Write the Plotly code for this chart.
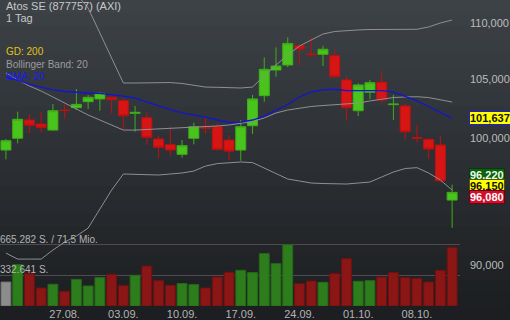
import numpy as np
import plotly.graph_objects as go

dates = ["20.08.", "21.08.", "22.08.", "23.08.", "24.08.",
         "27.08.", "28.08.", "29.08.", "30.08.", "31.08.",
         "03.09.", "04.09.", "05.09.", "06.09.", "07.09.",
         "10.09.", "11.09.", "12.09.", "13.09.", "14.09.",
         "17.09.", "18.09.", "19.09.", "20.09.", "21.09.",
         "24.09.", "25.09.", "26.09.", "27.09.", "28.09.",
         "01.10.", "02.10.", "03.10.", "04.10.", "05.10.",
         "08.10.", "09.10.", "10.10.", "11.10."]

opens = [99.01, 99.98, 101.50, 101.16, 100.66, 102.34, 102.54, 103.05, 103.28, 103.42,
         103.13, 102.06, 101.69, 99.92, 99.45, 98.66, 99.98, 100.89, 100.94, 99.83,
         99.01, 101.02, 103.56, 105.78, 106.22, 107.92, 107.19, 107.16, 107.04, 104.91,
         102.28, 103.85, 104.72, 102.80, 102.68, 100.04, 99.89, 99.42, 95.00]
highs = [99.92, 102.20, 102.00, 102.20, 102.85, 102.82, 104.13, 103.62, 103.87, 103.45,
         103.33, 102.68, 102.15, 100.19, 100.94, 99.83, 101.27, 101.64, 101.22, 100.25,
         101.50, 103.62, 106.89, 107.78, 108.67, 107.95, 108.73, 107.92, 107.54, 105.28,
         104.62, 104.91, 105.63, 103.62, 102.91, 101.08, 100.02, 100.17, 96.22]
lows = [98.25, 99.56, 100.39, 100.47, 100.58, 101.58, 102.34, 102.43, 102.28, 102.06,
        100.66, 100.52, 99.42, 98.34, 98.55, 98.39, 99.48, 100.33, 98.96, 98.20,
        98.14, 100.33, 103.05, 105.20, 106.02, 106.22, 106.95, 106.13, 105.10, 101.44,
        101.83, 103.28, 102.95, 101.50, 99.89, 99.65, 98.28, 96.45, 92.85]
closes = [99.78, 101.56, 101.06, 100.86, 102.28, 102.30, 102.82, 103.42, 103.76, 103.22,
          101.86, 102.14, 100.06, 99.24, 99.01, 99.37, 100.94, 100.83, 99.07, 98.93,
          100.94, 103.28, 105.84, 106.13, 108.13, 107.63, 107.13, 107.61, 105.20, 102.54,
          104.48, 104.68, 103.19, 102.84, 100.52, 100.00, 99.09, 96.53, 95.61]

sma20 = [105.21, 104.87, 104.56, 104.30, 104.06, 103.92, 103.83, 103.79, 103.76, 103.66,
         103.53, 103.36, 103.02, 102.72, 102.38, 102.09, 101.92, 101.75, 101.50, 101.29,
         101.33, 101.50, 101.83, 102.30, 102.81, 103.45, 103.88, 104.05, 104.11, 104.00,
         103.98, 103.99, 103.99, 103.88, 103.49, 103.11, 102.64, 102.13, 101.637]
bb_upper = [120.14, 119.35, 118.27, 117.45, 115.74, 114.11, 112.64, 111.34, 109.07, 106.84,
            104.65, 104.65, 104.65, 104.69, 104.69, 104.61, 104.48, 104.30, 104.28, 104.26,
            104.22, 104.30, 105.26, 106.22, 107.10, 107.90, 108.44, 108.97, 109.20, 109.29,
            109.34, 109.38, 109.40, 109.40, 109.40, 109.40, 109.61, 109.97, 110.24]
bb_mid = [105.52, 104.91, 104.39, 103.96, 103.45, 102.93, 102.43, 101.92, 101.50, 101.08,
          100.66, 100.66, 100.70, 100.75, 100.79, 100.83, 100.87, 100.95, 101.00, 101.08,
          101.21, 101.37, 101.67, 102.09, 102.34, 102.51, 102.64, 102.72, 102.77, 102.85,
          102.93, 103.11, 103.23, 103.40, 103.45, 103.47, 103.40, 103.23, 103.02]
bb_lower = [90.93, 90.48, 90.48, 90.48, 91.16, 91.76, 92.22, 92.83, 94.30, 95.79,
            97.07, 97.03, 96.99, 96.99, 97.07, 97.15, 97.31, 97.71, 97.91, 97.99,
            98.04, 97.99, 97.55, 97.07, 96.67, 96.51, 96.35, 96.31, 96.27, 96.27,
            96.35, 96.43, 96.83, 97.23, 97.51, 97.58, 97.15, 96.59, 95.79]

volumes = [260000, 449000, 351000, 195000, 235000, 159000, 289000, 217000, 308000, 343000,
           221000, 333000, 433000, 275000, 224000, 243000, 232000, 195000, 314000, 365000,
           387000, 362000, 568000, 459000, 665282, 243000, 271000, 257000, 351000, 514000,
           268000, 275000, 314000, 362000, 308000, 300000, 260000, 387000, 636000]
vol_dir = ["n", "u", "d", "d", "u", "d", "u", "u", "u", "d",
           "d", "u", "d", "d", "d", "u", "u", "d", "d", "d",
           "u", "u", "u", "u", "u", "d", "d", "u", "d", "d",
           "u", "u", "d", "d", "d", "d", "d", "d", "d"]

price_ticks = [90, 100, 105, 110]
price_ticktext = ["90,000", "100,000", "105,000", "110,000"]
date_ticks = ["27.08.", "03.09.", "10.09.", "17.09.", "24.09.", "01.10.", "08.10."]
vol_ticks = [332641, 665282]
vol_labels = ["332.641 S.", "665.282 S. / 71,5 Mio."]

last_sma = 101.637
last_sma_text = "101,637"
quote_bid, quote_last, quote_ask = "96,220", "96,150", "96,080"
quote_last_val = 96.15

FONT = "Liberation Sans, Arial, sans-serif"
W, H = 510, 320
M_L, M_R, M_T, M_B = 0, 45, 0, 14

vol_fill = {"n": "#8c8c8c", "u": "#2e7d1c", "d": "#8b1616"}
vol_line = {"n": "#6e6e6e", "u": "#25681a", "d": "#701010"}

fig = go.Figure()

# volume bars
fig.add_trace(go.Bar(
    x=dates, y=volumes, yaxis="y2",
    marker=dict(color=[vol_fill[d] for d in vol_dir],
                line=dict(color=[vol_line[d] for d in vol_dir], width=1)),
    width=0.84, showlegend=False, hoverinfo="skip"))

# Bollinger bands
for band in (bb_upper, bb_mid, bb_lower):
    fig.add_trace(go.Scatter(x=dates, y=band, mode="lines",
                             line=dict(color="#8e9092", width=1),
                             showlegend=False, hoverinfo="skip"))
# SMA
fig.add_trace(go.Scatter(x=dates, y=sma20, mode="lines",
                         line=dict(color="#1414d2", width=1.3),
                         showlegend=False, hoverinfo="skip"))

# candles
fig.add_trace(go.Candlestick(
    x=dates, open=opens, high=highs, low=lows, close=closes,
    increasing=dict(line=dict(color="#3fae18", width=1), fillcolor="#48c41c"),
    decreasing=dict(line=dict(color="#c01010", width=1), fillcolor="#d61515"),
    whiskerwidth=0, showlegend=False))

# background gradient (stepped bands)
top_c = np.array([0x3d, 0x42, 0x47])
bot_c = np.array([0x1c, 0x1e, 0x21])
nb = 24
shapes = []
y_lo, y_hi = -M_B / (H - M_T - M_B), 1.0
for k in range(nb):
    t = k / (nb - 1)
    c = top_c + (bot_c - top_c) * t
    y1 = y_hi - (y_hi - y_lo) * k / nb
    y0 = y_hi - (y_hi - y_lo) * (k + 1) / nb
    shapes.append(dict(type="rect", xref="paper", yref="paper",
                       x0=-0.01, x1=1.12, y0=y0 - 0.002, y1=y1,
                       fillcolor="rgb(%d,%d,%d)" % tuple(c.astype(int)),
                       line=dict(width=0), layer="below"))
# last price dash
shapes.append(dict(type="line", xref="paper", yref="y",
                   x0=1.006, x1=1.014,
                   y0=np.log10(quote_last_val), y1=np.log10(quote_last_val),
                   line=dict(color="#9a9a9a", width=2)))

annotations = [
    dict(text="Atos SE (877757) (AXI)", x=0, y=1, xref="paper", yref="paper",
         xanchor="left", yanchor="middle", xshift=4, yshift=-6, showarrow=False,
         font=dict(family=FONT, size=11, color="#c8c8c8")),
    dict(text="1 Tag", x=0, y=1, xref="paper", yref="paper",
         xanchor="left", yanchor="middle", xshift=4, yshift=-18, showarrow=False,
         font=dict(family=FONT, size=11, color="#c8c8c8")),
    dict(text="GD: 200", x=0, y=1, xref="paper", yref="paper",
         xanchor="left", yanchor="middle", xshift=4, yshift=-51, showarrow=False,
         font=dict(family=FONT, size=10, color="#e3c21a")),
    dict(text="Bollinger Band: 20", x=0, y=1, xref="paper", yref="paper",
         xanchor="left", yanchor="middle", xshift=4, yshift=-64, showarrow=False,
         font=dict(family=FONT, size=10, color="#9c9c9c")),
    dict(text="SMA: 20", x=0, y=1, xref="paper", yref="paper",
         xanchor="left", yanchor="middle", xshift=4, yshift=-76, showarrow=False,
         font=dict(family=FONT, size=10, color="#1a1af0")),
]
for v, t in zip(vol_ticks, vol_labels):
    annotations.append(dict(text=t, x=0, y=v, xref="paper", yref="y2",
                            xanchor="left", yanchor="bottom", xshift=-2, yshift=-2,
                            showarrow=False,
                            font=dict(family=FONT, size=10, color="#b4b4b4")))

def box(text, yval, bg, border, fg, yshift=0):
    return dict(text="<b>%s</b>" % text, x=1, y=np.log10(yval), xref="paper", yref="y",
                xanchor="left", yanchor="middle", xshift=9, yshift=yshift,
                showarrow=False, bgcolor=bg, bordercolor=border, borderwidth=1,
                borderpad=0, font=dict(family=FONT, size=11, color=fg))

annotations.append(box(last_sma_text, last_sma, "#ffff00", "#2020d0", "#111111"))
annotations.append(box(quote_bid, quote_last_val, "#0f5e12", "#0a3a0a", "#e8ffe8", yshift=11))
annotations.append(box(quote_last, quote_last_val, "#ffff00", "#555500", "#111111"))
annotations.append(box(quote_ask, quote_last_val, "#d3102b", "#700010", "#ffffff", yshift=-11))

fig.update_layout(
    width=W, height=H,
    margin=dict(l=M_L, r=M_R, t=M_T, b=M_B),
    paper_bgcolor="#26292c", plot_bgcolor="rgba(0,0,0,0)",
    showlegend=False, boxgap=0.15, boxgroupgap=0,
    shapes=shapes, annotations=annotations,
    xaxis=dict(type="category", range=[-0.505, 38.67],
               tickvals=date_ticks, ticktext=date_ticks,
               showgrid=False, zeroline=False, showline=False, ticks="",
               tickfont=dict(family=FONT, size=11, color="#b4b4b4"),
               rangeslider=dict(visible=False), fixedrange=True),
    yaxis=dict(type="log", side="right",
               range=[np.log10(87.04), np.log10(112.08)],
               tickvals=price_ticks, ticktext=price_ticktext,
               showgrid=False, zeroline=False, showline=False, ticks="",
               ticklabelstandoff=9,
               tickfont=dict(family=FONT, size=11, color="#bcbcbc")),
    yaxis2=dict(overlaying="y", range=[0, 3315500], tickvals=vol_ticks,
                showticklabels=False, showgrid=True, gridcolor="#4a4e52",
                gridwidth=1, zeroline=False, showline=False, ticks=""),
)

fig.write_html("out.html")
